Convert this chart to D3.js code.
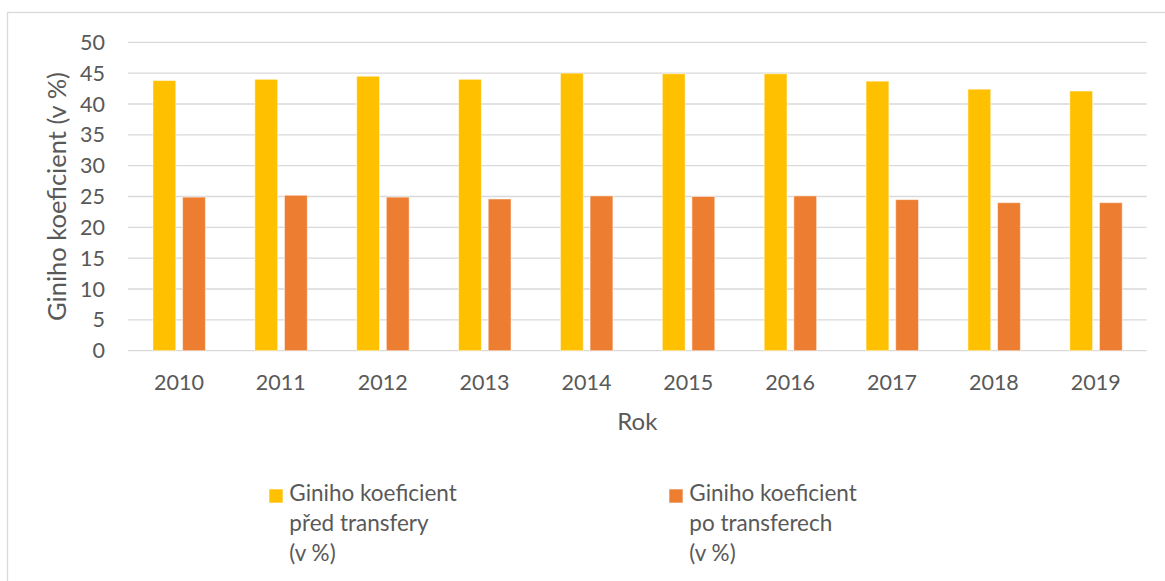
<!DOCTYPE html>
<html>
<head>
<meta charset="utf-8">
<script src="https://cdn.jsdelivr.net/npm/d3@7"></script>
<style>
  body { margin: 0; background: #fff; }
  svg text { font-family: Lato, "Open Sans", sans-serif; fill: #595959; }
</style>
</head>
<body>
<svg id="chart" width="1165" height="581"></svg>
<script>
// data
let years = ["2010", "2011", "2012", "2013", "2014", "2015", "2016", "2017", "2018", "2019"];
let beforeTransfers = [43.8, 44.0, 44.5, 44.0, 45.0, 44.9, 44.9, 43.7, 42.4, 42.1];
let afterTransfers = [24.9, 25.2, 24.9, 24.6, 25.1, 25.0, 25.1, 24.5, 24.0, 24.0];
let yTicks = [0, 5, 10, 15, 20, 25, 30, 35, 40, 45, 50];
let seriesNames = [
    ["Giniho koeficient", "před transfery", "(v %)"],
    ["Giniho koeficient", "po transferech", "(v %)"]
];
let seriesColors = ["#FFC000", "#ED7D31"];

let svg = d3.select("#chart");

// chart area border (only top/left edges are visible in the crop)
svg.append("rect")
    .attr("x", 7.5).attr("y", 12.5)
    .attr("width", 1200).attr("height", 620)
    .attr("fill", "none")
    .attr("stroke", "#d9d9d9")
    .attr("stroke-width", 1.3);

let plotLeft = 128, plotRight = 1146.7, plotTop = 42.3, plotBottom = 350.7;

let y = d3.scaleLinear().domain([0, 50]).range([plotBottom, plotTop]);
let x = d3.scaleBand().domain(years).range([plotLeft, plotRight]).padding(0);
let x1 = d3.scaleBand().domain([0, 1])
    .range([x.bandwidth() * 0.245, x.bandwidth() * 0.76])
    .paddingInner(0.23);

// gridlines
svg.append("g").selectAll("line")
    .data(yTicks)
    .join("line")
    .attr("x1", plotLeft).attr("x2", plotRight)
    .attr("y1", d => y(d)).attr("y2", d => y(d))
    .attr("stroke", "#d9d9d9")
    .attr("stroke-width", 1.3);

// y tick labels
svg.append("g").selectAll("text")
    .data(yTicks)
    .join("text")
    .attr("x", 105)
    .attr("y", d => y(d))
    .attr("dy", "0.35em")
    .attr("text-anchor", "end")
    .style("font-size", "21.5px")
    .text(d => d);

// bars
let rows = years.map((yr, i) => ({ year: yr, values: [beforeTransfers[i], afterTransfers[i]] }));
let groups = svg.append("g").selectAll("g")
    .data(rows)
    .join("g")
    .attr("transform", d => "translate(" + x(d.year) + ",0)");

groups.selectAll("rect")
    .data(d => d.values.map((v, k) => ({ k: k, v: v })))
    .join("rect")
    .attr("x", d => x1(d.k))
    .attr("width", x1.bandwidth())
    .attr("y", d => y(d.v))
    .attr("height", d => y(0) - y(d.v))
    .attr("fill", d => seriesColors[d.k])
    .attr("stroke", "#fff")
    .attr("stroke-opacity", 0.5)
    .attr("stroke-width", 1);

// x tick labels
svg.append("g").selectAll("text")
    .data(years)
    .join("text")
    .attr("x", d => x(d) + x.bandwidth() / 2)
    .attr("y", 390)
    .attr("text-anchor", "middle")
    .style("font-size", "21.5px")
    .text(d => d);

// axis titles
svg.append("text")
    .attr("x", (plotLeft + plotRight) / 2)
    .attr("y", 430)
    .attr("text-anchor", "middle")
    .style("font-size", "24px")
    .text("Rok");

svg.append("text")
    .attr("transform", "translate(66," + ((plotTop + plotBottom) / 2) + ") rotate(-90)")
    .attr("text-anchor", "middle")
    .style("font-size", "25.5px")
    .text("Giniho koeficient (v %)");

// legend
let legendX = [269.3, 669.3];
let legend = svg.append("g").selectAll("g")
    .data(seriesNames)
    .join("g")
    .attr("transform", (d, i) => "translate(" + legendX[i] + ",489.3)");

legend.append("rect")
    .attr("width", 13.4).attr("height", 13.4)
    .attr("fill", (d, i) => seriesColors[i]);

legend.append("text")
    .style("font-size", "22.5px")
    .selectAll("tspan")
    .data(d => d)
    .join("tspan")
    .attr("x", 20)
    .attr("y", (d, j) => 11.5 + j * 30)
    .text(d => d);
</script>
</body>
</html>
